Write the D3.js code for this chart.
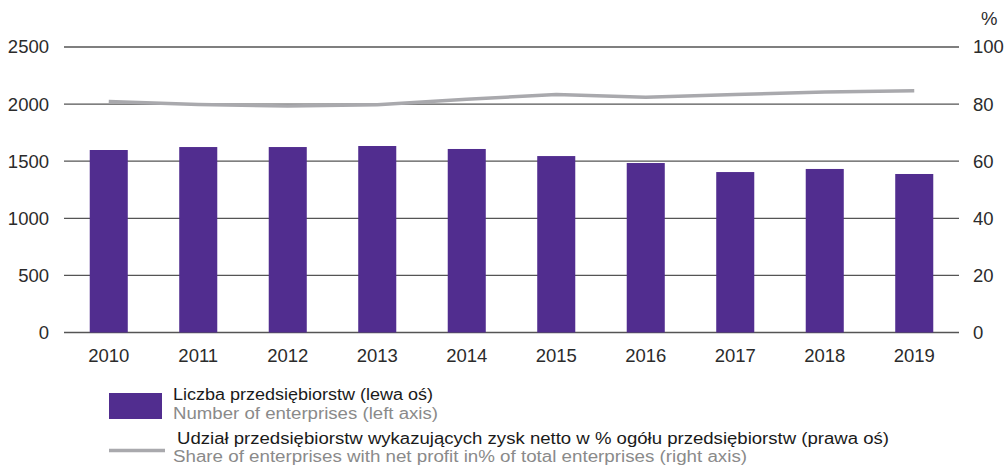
<!DOCTYPE html>
<html>
<head>
<meta charset="utf-8">
<script src="https://cdn.jsdelivr.net/npm/d3@7"></script>
<style>
  body { margin: 0; background: #fff; }
  text { font-family: "Liberation Sans", Arial, sans-serif; }
</style>
</head>
<body>
<svg id="drawing_region"></svg>
<script>
const years = ["2010", "2011", "2012", "2013", "2014", "2015", "2016", "2017", "2018", "2019"];
const enterprises = [1598, 1624, 1624, 1633, 1607, 1545, 1484, 1405, 1432, 1388];
const profitShare = [80.9, 79.9, 79.3, 79.8, 81.7, 83.4, 82.4, 83.4, 84.2, 84.7];
const leftTicks = [0, 500, 1000, 1500, 2000, 2500];
const rightTicks = [0, 20, 40, 60, 80, 100];

const width = 1006, height = 468;
const svg = d3.select('#drawing_region')
    .attr('width', width)
    .attr('height', height);

const x = d3.scaleBand()
    .domain(years)
    .range([64, 959])
    .paddingInner(0.575)
    .paddingOuter(0.2875);

const yLeft = d3.scaleLinear().domain([0, 2500]).range([332.5, 47]);
const yRight = d3.scaleLinear().domain([0, 100]).range([332.5, 47]);

// grid lines
svg.append('g')
    .selectAll('line')
    .data(leftTicks)
    .enter()
    .append('line')
    .attr('x1', 64)
    .attr('x2', 959)
    .attr('y1', d => yLeft(d))
    .attr('y2', d => yLeft(d))
    .attr('stroke', '#555')
    .attr('stroke-width', 1.3);

// left axis
const leftAxis = svg.append('g')
    .attr('transform', 'translate(49,0)')
    .call(d3.axisLeft(yLeft).tickValues(leftTicks).tickFormat(d3.format('d')).tickSize(0).tickPadding(0));
leftAxis.select('.domain').remove();
leftAxis.selectAll('text')
    .attr('font-size', 18.5)
    .attr('fill', '#2b2b2b');

// right axis
const rightAxis = svg.append('g')
    .attr('transform', 'translate(973,0)')
    .call(d3.axisRight(yRight).tickValues(rightTicks).tickFormat(d3.format('d')).tickSize(0).tickPadding(0));
rightAxis.select('.domain').remove();
rightAxis.selectAll('text')
    .attr('font-size', 18.5)
    .attr('fill', '#2b2b2b');

svg.append('text')
    .attr('x', 981)
    .attr('y', 25)
    .attr('font-size', 18.5)
    .attr('fill', '#2b2b2b')
    .text('%');

// bottom axis
const bottomAxis = svg.append('g')
    .attr('transform', 'translate(0,332.5)')
    .call(d3.axisBottom(x).tickSize(0).tickPadding(16));
bottomAxis.select('.domain').remove();
bottomAxis.selectAll('text')
    .attr('font-size', 18.5)
    .attr('fill', '#2b2b2b');

// bars
svg.append('g')
    .selectAll('rect')
    .data(enterprises)
    .enter()
    .append('rect')
    .attr('x', (d, i) => x(years[i]))
    .attr('width', x.bandwidth())
    .attr('y', d => yLeft(d))
    .attr('height', d => yLeft(0) - yLeft(d))
    .attr('fill', '#512d8f');

// line
const line = d3.line()
    .x((d, i) => x(years[i]) + x.bandwidth() / 2)
    .y(d => yRight(d));

svg.append('path')
    .datum(profitShare)
    .attr('d', line)
    .attr('fill', 'none')
    .attr('stroke', '#a9a9ad')
    .attr('stroke-width', 3.5);

// legend (tight lines, stretched to the reference widths)
const legend = svg.append('g');
legend.append('rect')
    .attr('x', 109).attr('y', 393)
    .attr('width', 53).attr('height', 26)
    .attr('fill', '#512d8f');
legend.append('line')
    .attr('x1', 109).attr('x2', 165)
    .attr('y1', 450.5).attr('y2', 450.5)
    .attr('stroke', '#a9a9ad')
    .attr('stroke-width', 3.5);

const legendTexts = [
    { x: 173, y: 400, w: 260, c: '#1a1a1a', t: 'Liczba przedsiębiorstw (lewa oś)' },
    { x: 173, y: 419, w: 265, c: '#8a8a8a', t: 'Number of enterprises (left axis)' },
    { x: 177, y: 443.5, w: 712, c: '#1a1a1a', t: 'Udział przedsiębiorstw wykazujących zysk netto w % ogółu przedsiębiorstw (prawa oś)' },
    { x: 173, y: 462, w: 574, c: '#8a8a8a', t: 'Share of enterprises with net profit in% of total enterprises (right axis)' }
];
legend.selectAll('text')
    .data(legendTexts)
    .enter()
    .append('text')
    .attr('x', d => d.x)
    .attr('y', d => d.y)
    .attr('font-size', 16)
    .attr('textLength', d => d.w)
    .attr('lengthAdjust', 'spacingAndGlyphs')
    .attr('fill', d => d.c)
    .text(d => d.t);
</script>
</body>
</html>
